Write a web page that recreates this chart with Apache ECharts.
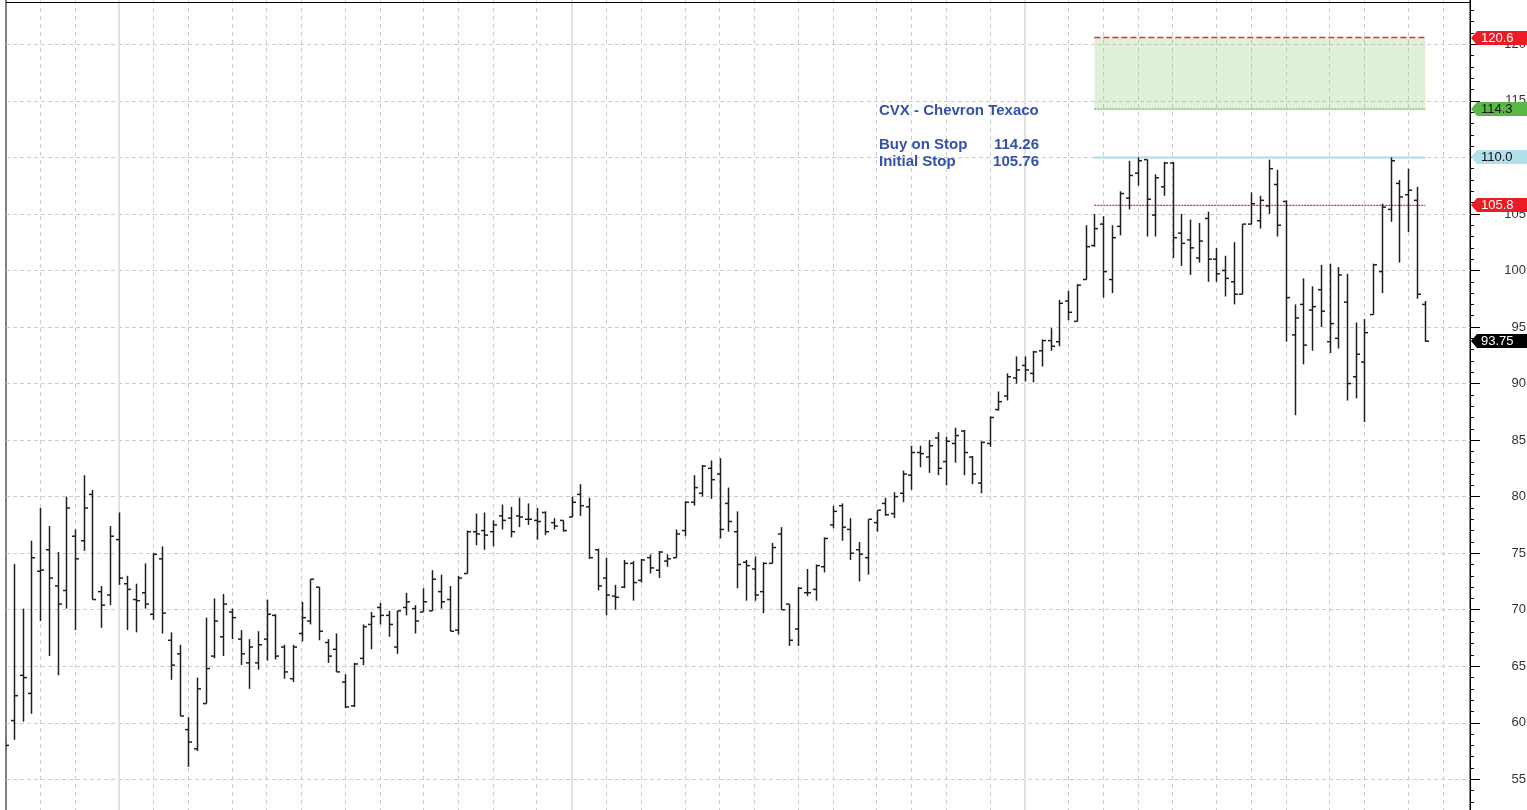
<!doctype html>
<html lang="en">
  <head>
    <meta charset="UTF-8" />
    <meta name="viewport" content="width=device-width, initial-scale=1.0" />
    <title>CVX - Chevron Texaco</title>
    <script src="https://cdn.jsdelivr.net/npm/echarts@6/dist/echarts.min.js"></script>
    <style>
      body {
        margin: 0;
        padding: 0;
        background: #fff;
      }
      .main {
        width: 1527px;
        height: 810px;
      }
    </style>
  </head>
  <body>
    <div class="main"></div>
    <script>
      // weekly OHLC bars, index = week number
      const opens = [
        58.3, 60.2, 64.2, 62.6, 73.4, 75.3, 72.1, 71.7, 76.5, 76.1, 80.2, 71.6, 71.3, 76.2, 72.3, 70.9, 71.5, 69.6, 74.5, 67.3,
        66.1, 59.4, 57.7, 61.7, 65.9, 67.6, 69.8, 67.4, 65.3, 65.3, 67.4, 69.5, 66.7, 63.9, 67.9, 69.0, 72.0, 67.1, 66.5, 63.6,
        61.5, 65.7, 68.7, 70.2, 69.5, 66.7, 70.2, 70.1, 69.8, 69.9, 71.6, 70.9, 68.2, 73.2, 76.9, 77.0, 76.9, 78.3, 78.1, 78.3,
        78.0, 77.9, 78.6, 77.7, 77.9, 78.2, 80.2, 79.1, 75.3, 72.8, 71.2, 72.0, 74.1, 72.6, 74.6, 73.5, 74.3, 74.6, 77.0, 79.5,
        80.3, 82.5, 82.0, 79.4, 76.9, 74.2, 73.6, 71.6, 74.1, 76.7, 70.5, 68.3, 71.5, 71.8, 73.8, 77.5, 79.2, 77.1, 75.3, 74.6,
        77.7, 79.4, 78.5, 80.3, 81.9, 83.9, 83.5, 85.2, 83.1, 84.7, 85.8, 83.5, 81.2, 84.7, 87.7, 88.9, 90.5, 91.6, 90.9, 92.9,
        93.8, 93.7, 97.3, 95.5, 99.2, 102.2, 104.1, 99.2, 103.9, 106.4, 108.6, 109.8, 104.9, 107.4, 109.5, 103.3, 102.7, 101.1, 104.6, 101.0,
        100.0, 99.0, 97.9, 104.1, 104.4, 105.7, 107.6, 106.1, 94.3, 97.0, 96.5, 98.3, 93.7, 94.0, 97.2, 90.6, 91.9, 96.1, 99.9, 105.4,
        107.7, 106.7, 106.2, 97.0,
      ];
      const highs = [
        58.6, 74.05, 70.1, 76.1, 79.0, 77.4, 75.1, 80.0, 77.1, 81.9, 80.6, 72.1, 77.4, 78.6, 73.0, 72.3, 74.1, 75.0, 75.6, 68.0,
        66.9, 60.5, 64.0, 69.3, 71.0, 71.4, 70.1, 68.2, 67.4, 68.1, 70.9, 69.6, 66.9, 66.9, 70.7, 72.7, 72.0, 67.4, 67.9, 64.3,
        65.3, 68.7, 69.8, 70.6, 69.9, 69.9, 71.5, 70.4, 71.9, 73.5, 73.1, 72.1, 73.0, 77.0, 78.5, 78.6, 77.9, 79.3, 79.1, 79.9,
        79.4, 79.0, 78.7, 78.1, 77.9, 80.0, 81.1, 79.9, 75.4, 74.6, 72.2, 74.4, 74.3, 74.5, 74.9, 75.2, 74.9, 77.1, 79.6, 81.9,
        82.8, 83.2, 83.4, 80.8, 78.7, 74.4, 74.7, 74.2, 75.9, 77.3, 70.5, 72.0, 73.6, 74.0, 76.4, 79.2, 79.4, 78.1, 76.0, 78.0,
        78.8, 79.9, 80.4, 82.3, 84.5, 84.5, 85.0, 85.7, 85.3, 86.1, 85.9, 83.6, 84.9, 87.1, 89.3, 90.9, 92.4, 92.4, 92.9, 93.9,
        94.9, 97.4, 98.2, 98.8, 104.0, 105.0, 104.8, 104.0, 107.0, 109.7, 110.0, 109.8, 108.5, 109.6, 109.6, 105.0, 104.5, 104.2, 105.2, 102.0,
        101.3, 102.5, 104.1, 106.9, 106.6, 109.8, 108.9, 106.2, 97.0, 99.3, 98.6, 100.5, 100.6, 100.3, 99.7, 95.4, 95.7, 100.6, 105.9, 110.0,
        108.0, 109.0, 107.4, 97.3,
      ];
      const lows = [
        57.6, 58.5, 60.1, 60.8, 69.0, 65.9, 64.2, 70.1, 68.2, 75.2, 70.9, 68.4, 70.4, 72.2, 68.2, 68.0, 70.1, 69.1, 67.9, 63.8,
        60.6, 56.1, 57.5, 61.7, 65.7, 65.9, 67.4, 65.1, 63.0, 64.7, 65.5, 65.6, 63.9, 63.6, 67.2, 68.7, 67.3, 65.3, 64.5, 61.3,
        61.4, 65.1, 66.5, 68.7, 67.6, 66.1, 69.5, 67.9, 69.8, 69.9, 70.1, 68.1, 67.8, 73.2, 75.7, 75.3, 75.6, 77.1, 76.4, 77.3,
        77.5, 76.2, 76.6, 77.1, 76.9, 78.2, 78.3, 74.5, 71.7, 69.5, 70.0, 71.9, 70.8, 72.4, 73.2, 72.8, 73.8, 74.6, 76.5, 79.2,
        80.0, 79.8, 76.3, 76.9, 71.9, 70.8, 70.8, 69.7, 74.1, 70.0, 66.8, 66.8, 71.2, 70.8, 73.3, 77.2, 76.1, 74.4, 72.5, 73.1,
        76.9, 78.3, 78.1, 79.5, 80.6, 82.6, 82.1, 81.9, 81.0, 83.0, 81.9, 81.1, 80.3, 84.4, 87.6, 88.5, 90.0, 90.2, 90.1, 91.5,
        92.9, 93.3, 95.6, 95.5, 99.2, 102.1, 97.6, 98.0, 103.1, 105.4, 107.5, 103.0, 103.0, 106.6, 101.1, 100.4, 99.6, 100.7, 99.0, 99.0,
        97.7, 97.0, 97.9, 104.1, 103.7, 105.0, 103.0, 93.7, 87.2, 91.7, 92.9, 95.0, 92.7, 93.1, 88.5, 88.7, 86.6, 96.1, 98.0, 104.3,
        100.7, 103.4, 97.5, 93.7,
      ];
      const closes = [
        58.0, 62.4, 64.0, 74.6, 73.5, 72.8, 70.5, 79.0, 74.5, 79.0, 70.9, 70.4, 76.5, 72.8, 71.8, 70.8, 70.5, 74.9, 69.7, 65.1,
        60.6, 58.3, 63.0, 64.8, 69.0, 70.5, 69.3, 66.1, 66.7, 66.9, 69.6, 65.9, 64.5, 66.7, 69.3, 72.7, 68.1, 65.9, 64.5, 61.4,
        65.2, 68.5, 69.4, 69.5, 68.7, 69.9, 70.7, 69.0, 70.7, 72.7, 70.7, 68.1, 72.8, 76.9, 76.7, 76.6, 77.5, 77.9, 76.9, 78.2,
        78.0, 77.8, 76.9, 77.4, 77.0, 79.5, 79.2, 74.6, 72.1, 71.3, 71.1, 74.1, 72.4, 74.4, 73.7, 75.1, 74.5, 76.7, 79.5, 80.8,
        82.7, 81.5, 77.1, 77.8, 74.0, 73.9, 71.3, 74.1, 75.5, 70.0, 67.3, 71.9, 71.5, 73.9, 76.3, 78.7, 77.3, 75.0, 74.9, 78.0,
        78.8, 78.4, 80.0, 82.0, 83.9, 83.8, 84.5, 82.5, 84.9, 85.4, 83.9, 82.0, 84.8, 87.0, 88.4, 90.6, 91.2, 91.2, 92.8, 93.8,
        93.3, 97.1, 96.3, 98.7, 102.1, 103.7, 99.9, 102.9, 106.8, 108.4, 109.7, 106.3, 108.2, 109.5, 102.9, 102.4, 102.0, 102.6, 101.0, 99.7,
        99.3, 97.9, 104.1, 105.9, 106.2, 109.0, 104.0, 97.6, 95.8, 93.4, 96.8, 96.4, 95.3, 99.6, 90.0, 92.6, 94.5, 100.5, 105.6, 109.7,
        106.5, 107.1, 97.9, 93.75,
      ];

      // vertical grid: first week of each month, solid lines at year start
      const monthStarts = [4, 8, 17, 21, 26, 30, 34, 39, 43, 48, 52, 56, 61, 69, 73, 78, 82, 86, 91, 95, 100, 104, 108, 113, 122, 126, 130, 134, 139, 143, 147, 152, 156, 161, 165];
      const yearStarts = [13, 65, 117];

      // trade setup
      const setupTitle = "CVX - Chevron Texaco";
      const targetPrice = 120.6;
      const buyStop = 114.26;
      const resistance = 110.0;
      const initialStop = 105.76;
      const zoneFrom = 125;
      const zoneTo = 163;

      const FONT = "'Liberation Sans', Arial, sans-serif";

      const bars = opens.map((o, i) => [i, o, highs[i], lows[i], closes[i]]);

      function renderBar(params, api) {
        const i = api.value(0);
        const hi = api.coord([i, api.value(2)]);
        const lo = api.coord([i, api.value(3)]);
        const op = api.coord([i, api.value(1)]);
        const cl = api.coord([i, api.value(4)]);
        const x = Math.round(hi[0]) + 0.5;
        const st = () => ({ stroke: "#1e1e1e", lineWidth: 1.5 });
        return {
          type: "group",
          children: [
            { type: "line", shape: { x1: x, y1: hi[1], x2: x, y2: lo[1] }, style: st() },
            { type: "line", shape: { x1: x - 3.5, y1: op[1], x2: x, y2: op[1] }, style: st() },
            { type: "line", shape: { x1: x, y1: cl[1], x2: x + 3.5, y2: cl[1] }, style: st() },
          ],
        };
      }

      // horizontal level across the setup zone
      function levelLine(value, color, type, width) {
        return {
          type: "line",
          silent: true,
          z: 3,
          symbol: "none",
          data: [
            [zoneFrom, value],
            [zoneTo, value],
          ],
          lineStyle: { color: color, type: type, width: width },
        };
      }

      const myChart = echarts.init(document.querySelector(".main"));

      const option = {
        animation: false,
        backgroundColor: "#fff",
        grid: {
          left: 6,
          right: 57,
          top: -12.25,
          bottom: -25.9,
          show: true,
          borderColor: "#000",
          borderWidth: 1,
          containLabel: false,
          outerBoundsMode: "none",
        },
        xAxis: {
          type: "value",
          min: 0.08,
          max: 168.12,
          show: false,
          splitLine: { show: false },
        },
        yAxis: {
          type: "value",
          position: "right",
          min: 50,
          max: 125,
          interval: 5,
          axisLine: { show: true, lineStyle: { color: "#000", width: 1 } },
          axisTick: { show: true, inside: false, length: 10, lineStyle: { color: "#000" } },
          minorTick: { show: true, splitNumber: 5, length: 4, lineStyle: { color: "#000" } },
          axisLabel: {
            align: "right",
            margin: 56,
            color: "#333",
            fontSize: 13,
            fontFamily: FONT,
          },
          splitLine: { show: true, lineStyle: { color: "#cdcdcd", type: [4, 3], width: 1 } },
        },
        series: [
          {
            // month / year grid lines
            type: "line",
            data: [],
            silent: true,
            z: 1,
            markLine: {
              silent: true,
              z: 1,
              symbol: ["none", "none"],
              label: { show: false },
              animation: false,
              data: [
                ...monthStarts.map((v) => ({
                  xAxis: v,
                  lineStyle: { color: "#cdcdcd", type: [4, 4], width: 1 },
                })),
                ...yearStarts.map((v) => ({
                  xAxis: v,
                  lineStyle: { color: "#e2e2e2", type: "solid", width: 2 },
                })),
              ],
            },
          },
          {
            // target zone
            type: "line",
            data: [],
            silent: true,
            z: 2,
            markArea: {
              silent: true,
              z: 2,
              itemStyle: { color: "rgba(125, 192, 95, 0.24)" },
              data: [[{ coord: [zoneFrom, buyStop] }, { coord: [zoneTo, targetPrice] }]],
            },
          },
          levelLine(targetPrice, "#ff2424", [6, 3], 1.6),
          levelLine(buyStop, "#5cc13a", [2, 1], 1.3),
          levelLine(resistance, "#acdce6", "solid", 2),
          levelLine(initialStop, "#ff1a1a", [2, 1], 1.3),
          {
            type: "custom",
            name: "CVX",
            z: 10,
            clip: true,
            renderItem: renderBar,
            encode: { x: 0, y: [1, 2, 3, 4] },
            data: bars,
          },
        ],
      };

      myChart.setOption(option);

      // price flags on the right axis
      const lastClose = closes[closes.length - 1];
      const flags = [
        { v: targetPrice, text: targetPrice.toFixed(1), bg: "#ec1c24", fg: "#fff" },
        { v: buyStop, text: buyStop.toFixed(1), bg: "#5cb846", fg: "#111" },
        { v: resistance, text: resistance.toFixed(1), bg: "#b2e0ea", fg: "#111" },
        { v: initialStop, text: initialStop.toFixed(1), bg: "#ec1c24", fg: "#fff" },
        { v: lastClose, text: lastClose.toFixed(2), bg: "#000", fg: "#fff" },
      ];
      const axisX = 1470;
      const graphic = [
        {
          type: "line",
          shape: { x1: 6, y1: 2.5, x2: axisX, y2: 2.5 },
          style: { stroke: "#000", lineWidth: 1 },
          z: 50,
        },
      ];
      flags.forEach((f) => {
        const y = Math.round(myChart.convertToPixel({ yAxisIndex: 0 }, f.v));
        graphic.push({
          type: "polygon",
          z: 60,
          shape: {
            points: [
              [axisX + 1, y],
              [axisX + 7, y - 7],
              [1528, y - 7],
              [1528, y + 7],
              [axisX + 7, y + 7],
            ],
          },
          style: { fill: f.bg },
        });
        graphic.push({
          type: "text",
          z: 61,
          x: axisX + 11,
          y: y,
          style: {
            text: f.text,
            fill: f.fg,
            font: "13px " + FONT,
            align: "left",
            verticalAlign: "middle",
          },
        });
      });

      // setup annotation
      const noteStyle = (text, align) => ({
        text: text,
        fill: "#3352a8",
        font: "bold 15px " + FONT,
        align: align,
        verticalAlign: "middle",
      });
      graphic.push(
        { type: "text", z: 40, x: 879, y: 111, style: noteStyle(setupTitle, "left") },
        { type: "text", z: 40, x: 879, y: 145, style: noteStyle("Buy on Stop", "left") },
        { type: "text", z: 40, x: 1039, y: 145, style: noteStyle(buyStop.toFixed(2), "right") },
        { type: "text", z: 40, x: 879, y: 162, style: noteStyle("Initial Stop", "left") },
        { type: "text", z: 40, x: 1039, y: 162, style: noteStyle(initialStop.toFixed(2), "right") }
      );

      myChart.setOption({ graphic: graphic });
    </script>
  </body>
</html>
